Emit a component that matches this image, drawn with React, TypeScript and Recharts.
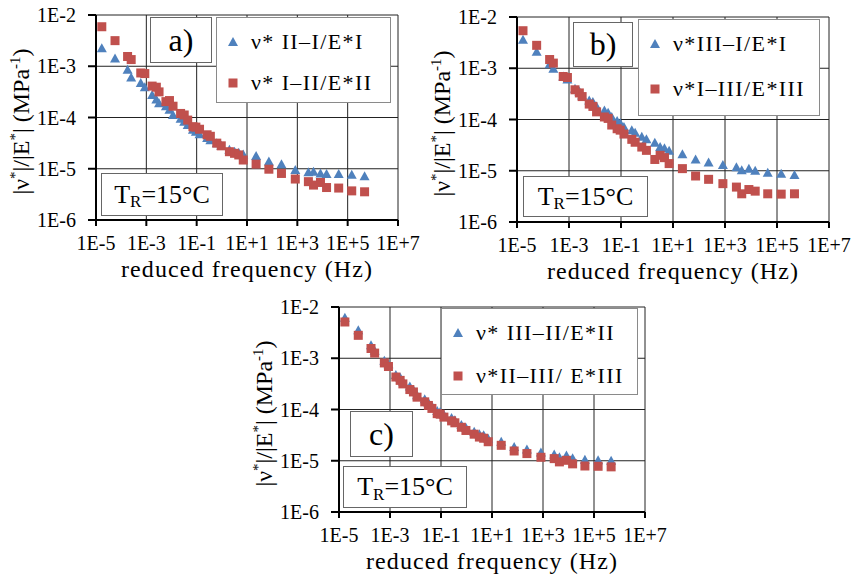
import React from 'react';
import { ScatterChart, Scatter, XAxis, YAxis, CartesianGrid, Legend } from 'recharts';

// reduced frequencies (Hz), shared by all series
const freq = [
  1.7e-5, 5.7e-5, 1.8e-4, 2.5e-4, 6.0e-4, 8.7e-4, 1.7e-3, 2.5e-3, 3.2e-3, 6.0e-3,
  8.3e-3, 1.15e-2, 2.3e-2, 3.2e-2, 4.4e-2, 7.1e-2, 9.3e-2, 0.13, 0.26, 0.35,
  0.63, 0.95, 2.0, 3.2, 4.7, 7.1, 23, 74, 234, 830,
  2750, 4400, 8300, 14500, 44000, 145000, 470000,
];

// a) ν* II–I/E*I
const aBlue = [
  2.24e-3, 1.41e-3, 8.5e-4, 6.0e-4, 4.7e-4, 3.9e-4, 2.75e-4, 2.24e-4, 1.9e-4, 1.66e-4,
  1.41e-4, 1.12e-4, 9.5e-5, 8.3e-5, 7.1e-5, 5.75e-5, 5.25e-5, 4.7e-5, 4.0e-5, 3.6e-5,
  3.16e-5, 2.8e-5, 2.35e-5, 2.15e-5, 2.05e-5, 1.9e-5, 1.78e-5, 1.38e-5, 1.23e-5, 9.5e-6,
  8.5e-6, 8.7e-6, 8.1e-6, 7.9e-6, 7.9e-6, 7.6e-6, 7.1e-6,
];
// a) ν* I–II/E*II
const aRed = [
  5.9e-3, 3.16e-3, 1.55e-3, 1.35e-3, 7.4e-4, 7.2e-4, 4.1e-4, 3.9e-4, 3.16e-4, 2.04e-4,
  2.14e-4, 1.66e-4, 1.2e-4, 1.12e-4, 8.9e-5, 6.6e-5, 6.5e-5, 5.9e-5, 4.6e-5, 4.3e-5,
  3.16e-5, 2.8e-5, 2.15e-5, 2.0e-5, 1.86e-5, 1.48e-5, 1.23e-5, 9.8e-6, 8.1e-6, 6.3e-6,
  5.6e-6, 4.8e-6, 5.4e-6, 4.3e-6, 4.2e-6, 3.7e-6, 3.55e-6,
];
// b) ν*III–I/E*I
const bBlue = [
  3.6e-3, 2.1e-3, 1.2e-3, 9.8e-4, 6.9e-4, 6.0e-4, 4.0e-4, 3.5e-4, 2.95e-4, 2.35e-4,
  2.2e-4, 1.8e-4, 1.5e-4, 1.35e-4, 1.12e-4, 9.3e-5, 8.5e-5, 7.1e-5, 6.2e-5, 5.5e-5,
  4.6e-5, 4.1e-5, 3.5e-5, 2.9e-5, 2.75e-5, 2.45e-5, 2.1e-5, 1.66e-5, 1.45e-5, 1.29e-5,
  1.17e-5, 1.02e-5, 1.1e-5, 1.0e-5, 9.1e-6, 8.7e-6, 8.3e-6,
];
// b) ν*I–III/E*III
const bRed = [
  5.4e-3, 2.8e-3, 1.48e-3, 1.26e-3, 6.9e-4, 6.6e-4, 3.8e-4, 3.3e-4, 2.8e-4, 2.0e-4,
  1.8e-4, 1.41e-4, 1.12e-4, 1.05e-4, 7.8e-5, 6.6e-5, 6.2e-5, 5.2e-5, 4.1e-5, 3.6e-5,
  2.9e-5, 2.5e-5, 1.66e-5, 2.0e-5, 1.8e-5, 1.38e-5, 1.1e-5, 7.9e-6, 6.8e-6, 5.6e-6,
  4.8e-6, 3.55e-6, 4.3e-6, 4.0e-6, 3.55e-6, 3.5e-6, 3.55e-6,
];
// c) ν* III–II/E*II
const cBlue = [
  6.2e-3, 3.5e-3, 1.8e-3, 1.4e-3, 8.9e-4, 7.6e-4, 4.7e-4, 4.2e-4, 3.5e-4, 2.8e-4,
  2.4e-4, 1.9e-4, 1.58e-4, 1.35e-4, 1.17e-4, 9.3e-5, 8.9e-5, 7.9e-5, 6.8e-5, 6.2e-5,
  5.0e-5, 4.4e-5, 3.7e-5, 3.3e-5, 3.16e-5, 2.7e-5, 2.35e-5, 1.86e-5, 1.66e-5, 1.45e-5,
  1.32e-5, 1.17e-5, 1.26e-5, 1.12e-5, 1.05e-5, 1.02e-5, 1.0e-5,
];
// c) ν*II–III/ E*III
const cRed = [
  5.1e-3, 2.8e-3, 1.55e-3, 1.26e-3, 8.1e-4, 6.9e-4, 4.3e-4, 3.7e-4, 3.16e-4, 2.45e-4,
  2.2e-4, 1.74e-4, 1.41e-4, 1.2e-4, 1.05e-4, 8.3e-5, 8.1e-5, 7.1e-5, 6.0e-5, 5.5e-5,
  4.5e-5, 3.9e-5, 3.3e-5, 2.9e-5, 2.75e-5, 2.35e-5, 2.0e-5, 1.55e-5, 1.38e-5, 1.17e-5,
  1.1e-5, 9.5e-6, 1.02e-5, 8.7e-6, 7.9e-6, 7.8e-6, 7.6e-6,
];

const xTicks = [1e-5, 1e-3, 1e-1, 1e1, 1e3, 1e5, 1e7];
const yTicks = [1e-6, 1e-5, 1e-4, 1e-3, 1e-2];

const BLUE = '#4F81BD';
const RED = '#C0504D';
const FONT = '"Liberation Serif", "Times New Roman", serif';

const fmtExp = (v: number) => {
  const e = Math.round(Math.log10(v));
  return '1E' + (e >= 0 ? '+' : '-') + Math.abs(e);
};

const toPoints = (ys: number[]) => freq.map((x, i) => ({ x, y: ys[i] }));

const Triangle = (props: any) => {
  const { cx, cy } = props;
  return <polygon points={`${cx},${cy - 5} ${cx + 5},${cy + 4} ${cx - 5},${cy + 4}`} fill={BLUE} />;
};
const Square = (props: any) => {
  const { cx, cy } = props;
  return <rect x={cx - 4.5} y={cy - 4.5} width={9} height={9} fill={RED} />;
};

const panels = [
  {
    id: 'a', left: 0, top: 0, w: 420, h: 290,
    margin: { top: 15, right: 22, left: 0, bottom: 0 }, yW: 96, xH: 70,
    legend: { x: 216, y: 17, w: 175, h: 86, gap: 41 },
    tag: { x: 150, y: 17, w: 62, h: 46, text: 'a)' },
    tr: { x: 101, y: 173, w: 122, h: 43 },
    blue: { name: 'ν* II–I/E*I', data: aBlue },
    red: { name: 'ν* I–II/E*II', data: aRed },
  },
  {
    id: 'b', left: 420, top: 0, w: 433, h: 290,
    margin: { top: 17, right: 24, left: 0, bottom: 0 }, yW: 97, xH: 68,
    legend: { x: 218, y: 19, w: 182, h: 97, gap: 45.6 },
    tag: { x: 153, y: 22, w: 60, h: 45, text: 'b)' },
    tr: { x: 103, y: 176, w: 125, h: 41 },
    blue: { name: 'ν*III–I/E*I', data: bBlue },
    red: { name: 'ν*I–III/E*III', data: bRed },
  },
  {
    id: 'c', left: 230, top: 290, w: 455, h: 287,
    margin: { top: 17, right: 40, left: 0, bottom: 0 }, yW: 109, xH: 65,
    legend: { x: 211, y: 18, w: 197, h: 87, gap: 43 },
    tag: { x: 120, y: 121, w: 63, h: 46, text: 'c)' },
    tr: { x: 113, y: 176, w: 124, h: 42 },
    blue: { name: 'ν* III–II/E*II', data: cBlue },
    red: { name: 'ν*II–III/ E*III', data: cRed },
  },
];

const makeLegend = (box: any) => (props: any) => {
  const payload = props.payload || [];
  return (
    <div
      style={{
        width: box.w, height: box.h, boxSizing: 'border-box', background: '#fff',
        border: '1.5px solid #8a8a8a', position: 'relative', fontFamily: FONT,
      }}
    >
      {payload.map((entry: any, i: number) => {
        const cy = 23.5 + i * box.gap;
        return (
          <div key={i} style={{ position: 'absolute', left: 0, top: cy - 14, height: 28, display: 'flex', alignItems: 'center' }}>
            <svg width={34} height={28} style={{ display: 'block' }}>
              {entry.type === 'triangle' ? (
                <polygon points="16,9 21,18 11,18" fill={entry.color} />
              ) : (
                <rect x={11.5} y={9.5} width={9} height={9} fill={entry.color} />
              )}
            </svg>
            <span style={{ fontSize: 22, letterSpacing: 1.4, color: '#000', whiteSpace: 'nowrap', lineHeight: '28px' }}>
              {entry.value}
            </span>
          </div>
        );
      })}
    </div>
  );
};

const boxStyle = (b: any): React.CSSProperties => ({
  position: 'absolute', left: b.x, top: b.y, width: b.w, height: b.h, boxSizing: 'border-box',
  border: '1.5px solid #666', background: '#fff', display: 'flex', alignItems: 'center',
  justifyContent: 'center', fontFamily: FONT, color: '#000',
});

function Panel({ p }: { p: any }) {
  const plotLeft = p.margin.left + p.yW;
  const plotRight = p.w - p.margin.right;
  const plotTop = p.margin.top;
  const plotBottom = p.h - p.xH - p.margin.bottom;
  const cxPlot = (plotLeft + plotRight) / 2;
  const cyPlot = (plotTop + plotBottom) / 2;
  return (
    <div style={{ position: 'absolute', left: p.left, top: p.top, width: p.w, height: p.h }}>
      <ScatterChart width={p.w} height={p.h} margin={p.margin}>
        <CartesianGrid stroke="#222" strokeWidth={1} fill="#fff" />
        <XAxis
          type="number" dataKey="x" scale="log" domain={[1e-5, 1e7]} ticks={xTicks}
          allowDataOverflow interval={0} height={p.xH} tickFormatter={fmtExp}
          stroke="#000" strokeWidth={2} tickSize={6} tickMargin={10}
          tick={{ fontSize: 20, fill: '#000', fontFamily: FONT }}
        />
        <YAxis
          type="number" dataKey="y" scale="log" domain={[1e-6, 1e-2]} ticks={yTicks}
          allowDataOverflow interval={0} width={p.yW} tickFormatter={fmtExp}
          stroke="#000" strokeWidth={2} tickSize={8} tickMargin={12}
          tick={{ fontSize: 20, fill: '#000', fontFamily: FONT }}
        />
        <Legend
          layout="vertical" align="center" verticalAlign="middle"
          wrapperStyle={{ left: p.legend.x, top: p.legend.y, width: p.legend.w, height: p.legend.h }}
          content={makeLegend(p.legend)}
        />
        <Scatter
          name={p.blue.name} data={toPoints(p.blue.data)} fill={BLUE}
          legendType="triangle" shape={Triangle} isAnimationActive={false}
        />
        <Scatter
          name={p.red.name} data={toPoints(p.red.data)} fill={RED}
          legendType="square" shape={Square} isAnimationActive={false}
        />
      </ScatterChart>
      <svg width={p.w} height={p.h} style={{ position: 'absolute', left: 0, top: 0, pointerEvents: 'none' }}>
        <text
          x={cxPlot} y={plotBottom + 57} textAnchor="middle" fontSize={24} letterSpacing={1.1}
          fontFamily={FONT} fill="#000"
        >
          reduced frequency (Hz)
        </text>
        <text
          transform={`translate(${plotLeft - 67},${cyPlot + 4}) rotate(-90)`}
          textAnchor="middle" fontSize={24} fontFamily={FONT} fill="#000"
        >
          <tspan>|ν</tspan>
          <tspan dy={-9} fontSize={15}>*</tspan>
          <tspan dy={9}>|/|E</tspan>
          <tspan dy={-9} fontSize={15}>*</tspan>
          <tspan dy={9}>| (MPa</tspan>
          <tspan dy={-9} fontSize={15}>-1</tspan>
          <tspan dy={9}>)</tspan>
        </text>
      </svg>
      <div style={{ ...boxStyle(p.tag), fontSize: 32 }}>{p.tag.text}</div>
      <div style={{ ...boxStyle(p.tr), fontSize: 26, lineHeight: 1 }}>
        <span>T</span>
        <span style={{ fontSize: 17, position: 'relative', top: 7 }}>R</span>
        <span>=15°C</span>
      </div>
    </div>
  );
}

export default function App() {
  return (
    <div style={{ position: 'absolute', left: 0, top: 0, width: 853, height: 577, background: '#fff', overflow: 'hidden' }}>
      {panels.map((p) => (
        <Panel key={p.id} p={p} />
      ))}
    </div>
  );
}
